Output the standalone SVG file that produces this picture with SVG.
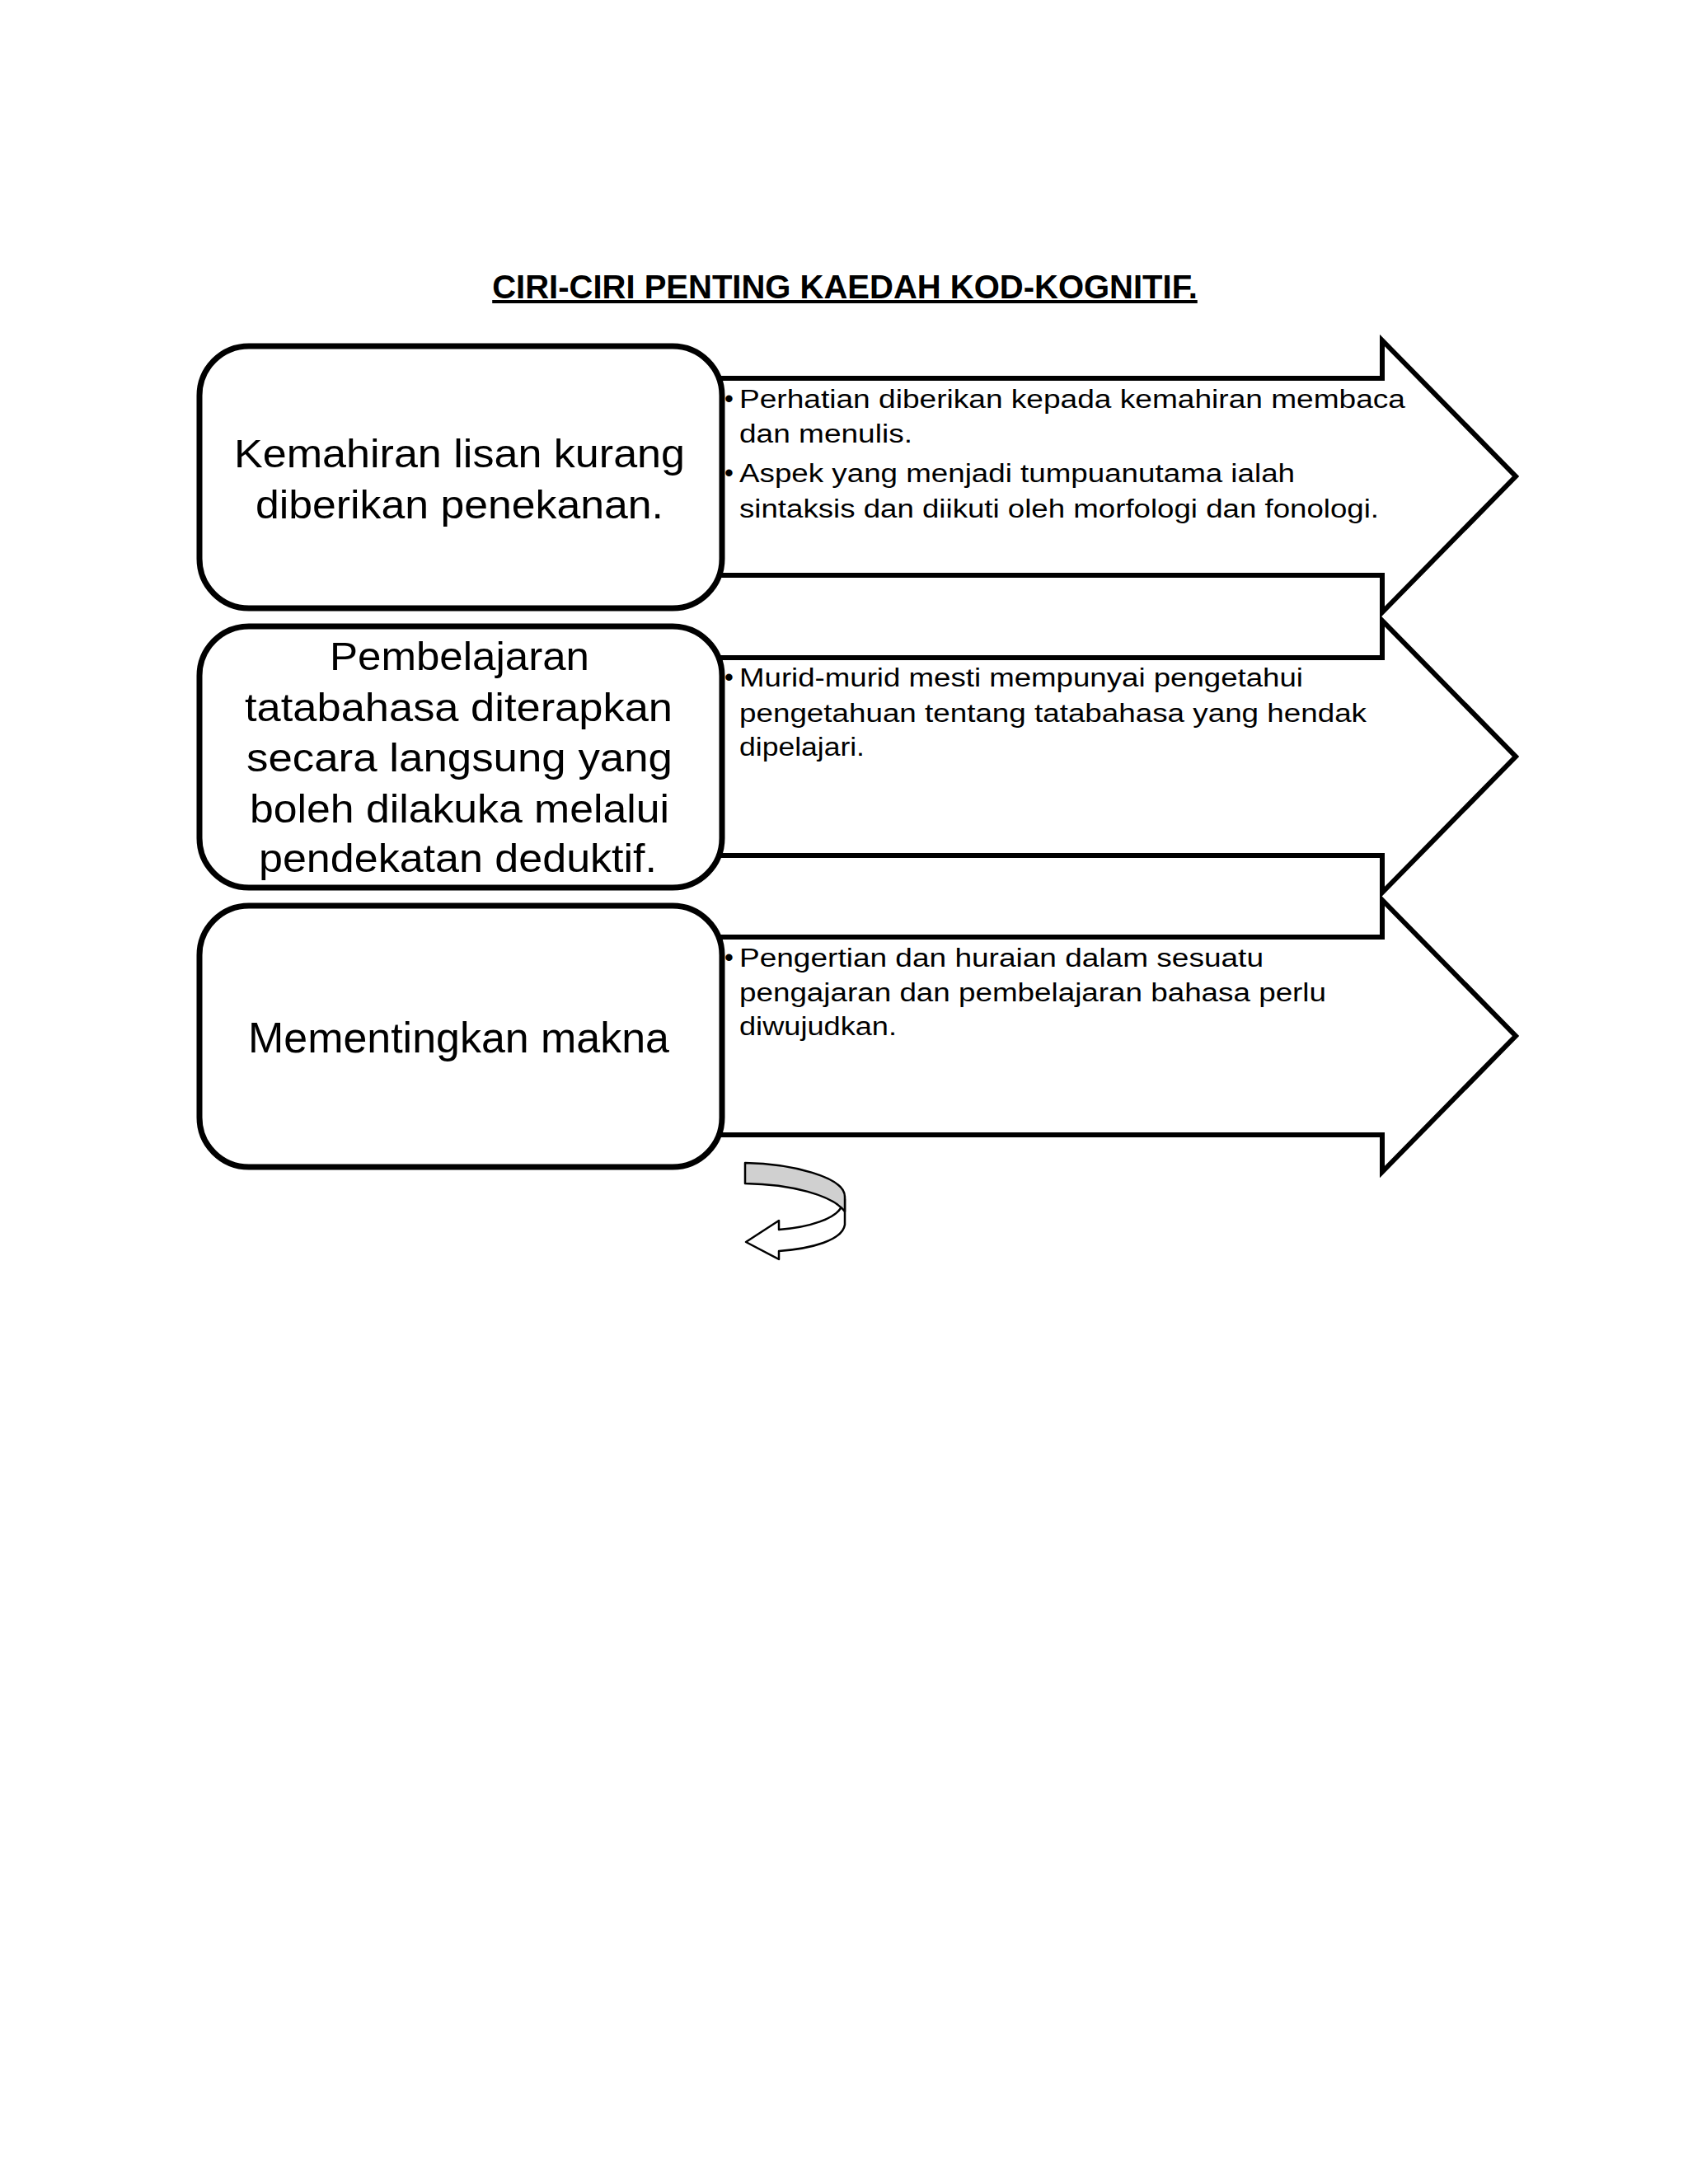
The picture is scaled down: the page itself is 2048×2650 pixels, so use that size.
<svg xmlns="http://www.w3.org/2000/svg" width="2048" height="2650" viewBox="0 0 2048 2650">
<style>
.title{font-family:"Liberation Sans",Arial,sans-serif;font-weight:bold;font-size:40px;fill:#000;text-decoration:underline}
.box{fill:#fff;stroke:#000;stroke-width:7}
.arrow{fill:#fff;stroke:#000;stroke-width:6;stroke-linejoin:miter}
.bt{font-family:"Liberation Sans",Arial,sans-serif;font-size:48px;fill:#000}
.bt3{font-family:"Liberation Sans",Arial,sans-serif;font-size:52px;fill:#000}
.at{font-family:"Liberation Sans",Arial,sans-serif;font-size:31px;fill:#000}
.curl{stroke:#000;stroke-width:2.5;stroke-linejoin:round}
</style>
<rect width="2048" height="2650" fill="#fff"/>
<text class="title" x="1025" y="362" text-anchor="middle">CIRI-CIRI PENTING KAEDAH KOD-KOGNITIF.</text>

<g id="connectors">
  <path id="arrow1" class="arrow" d="M850,459 L1677,459 L1677,413 L1839,578 L1677,743 L1677,698 L850,698 Z"/>
  <path id="arrow2" class="arrow" d="M850,798 L1677,798 L1677,753 L1839,918 L1677,1083 L1677,1038 L850,1038 Z"/>
  <path id="arrow3" class="arrow" d="M850,1137 L1677,1137 L1677,1092 L1839,1257 L1677,1422 L1677,1377 L850,1377 Z"/>
  <g id="curved-arrow">
    <path class="curl" fill="#fff" d="M1025,1455 L1025,1486 C1022,1505 985,1515 945,1518 L945,1528 L905,1507 L945,1481 L945,1492 C985,1489 1012,1478 1020,1466 Z"/>
    <path class="curl" fill="#d0d0d0" d="M904,1411 C960,1412 1025,1428 1025,1452 L1025,1470 C1010,1450 960,1437 904,1436 Z"/>
  </g>
</g>

<g id="node1">
  <rect class="box" x="242" y="420" width="634" height="318" rx="60" ry="60"/>
  <text class="bt" x="284" y="567" textLength="547" lengthAdjust="spacingAndGlyphs">Kemahiran lisan kurang</text>
  <text class="bt" x="310" y="629" textLength="495" lengthAdjust="spacingAndGlyphs">diberikan penekanan.</text>
</g>
<g id="node1-detail">
  <text class="at" x="879" y="494">•</text>
  <text class="at" x="897" y="495" textLength="808" lengthAdjust="spacingAndGlyphs">Perhatian diberikan kepada kemahiran membaca</text>
  <text class="at" x="897" y="537" textLength="210" lengthAdjust="spacingAndGlyphs">dan menulis.</text>
  <text class="at" x="879" y="584">•</text>
  <text class="at" x="897" y="585" textLength="674" lengthAdjust="spacingAndGlyphs">Aspek yang menjadi tumpuanutama ialah</text>
  <text class="at" x="897" y="628" textLength="776" lengthAdjust="spacingAndGlyphs">sintaksis dan diikuti oleh morfologi dan fonologi.</text>
</g>

<g id="node2">
  <rect class="box" x="242" y="760" width="634" height="317" rx="60" ry="60"/>
  <text class="bt" x="400" y="813" textLength="315" lengthAdjust="spacingAndGlyphs">Pembelajaran</text>
  <text class="bt" x="297" y="875" textLength="519" lengthAdjust="spacingAndGlyphs">tatabahasa diterapkan</text>
  <text class="bt" x="299" y="936" textLength="517" lengthAdjust="spacingAndGlyphs">secara langsung yang</text>
  <text class="bt" x="303" y="998" textLength="509" lengthAdjust="spacingAndGlyphs">boleh dilakuka melalui</text>
  <text class="bt" x="314" y="1058" textLength="483" lengthAdjust="spacingAndGlyphs">pendekatan deduktif.</text>
</g>
<g id="node2-detail">
  <text class="at" x="879" y="832">•</text>
  <text class="at" x="897" y="833" textLength="684" lengthAdjust="spacingAndGlyphs">Murid-murid mesti mempunyai pengetahui</text>
  <text class="at" x="897" y="876" textLength="761" lengthAdjust="spacingAndGlyphs">pengetahuan tentang tatabahasa yang hendak</text>
  <text class="at" x="897" y="917" textLength="152" lengthAdjust="spacingAndGlyphs">dipelajari.</text>
</g>

<g id="node3">
  <rect class="box" x="242" y="1099" width="634" height="317" rx="60" ry="60"/>
  <text class="bt3" x="301" y="1277" textLength="511" lengthAdjust="spacingAndGlyphs">Mementingkan makna</text>
</g>
<g id="node3-detail">
  <text class="at" x="879" y="1172">•</text>
  <text class="at" x="897" y="1173" textLength="636" lengthAdjust="spacingAndGlyphs">Pengertian dan huraian dalam sesuatu</text>
  <text class="at" x="897" y="1215" textLength="712" lengthAdjust="spacingAndGlyphs">pengajaran dan pembelajaran bahasa perlu</text>
  <text class="at" x="897" y="1256" textLength="191" lengthAdjust="spacingAndGlyphs">diwujudkan.</text>
</g>
</svg>
